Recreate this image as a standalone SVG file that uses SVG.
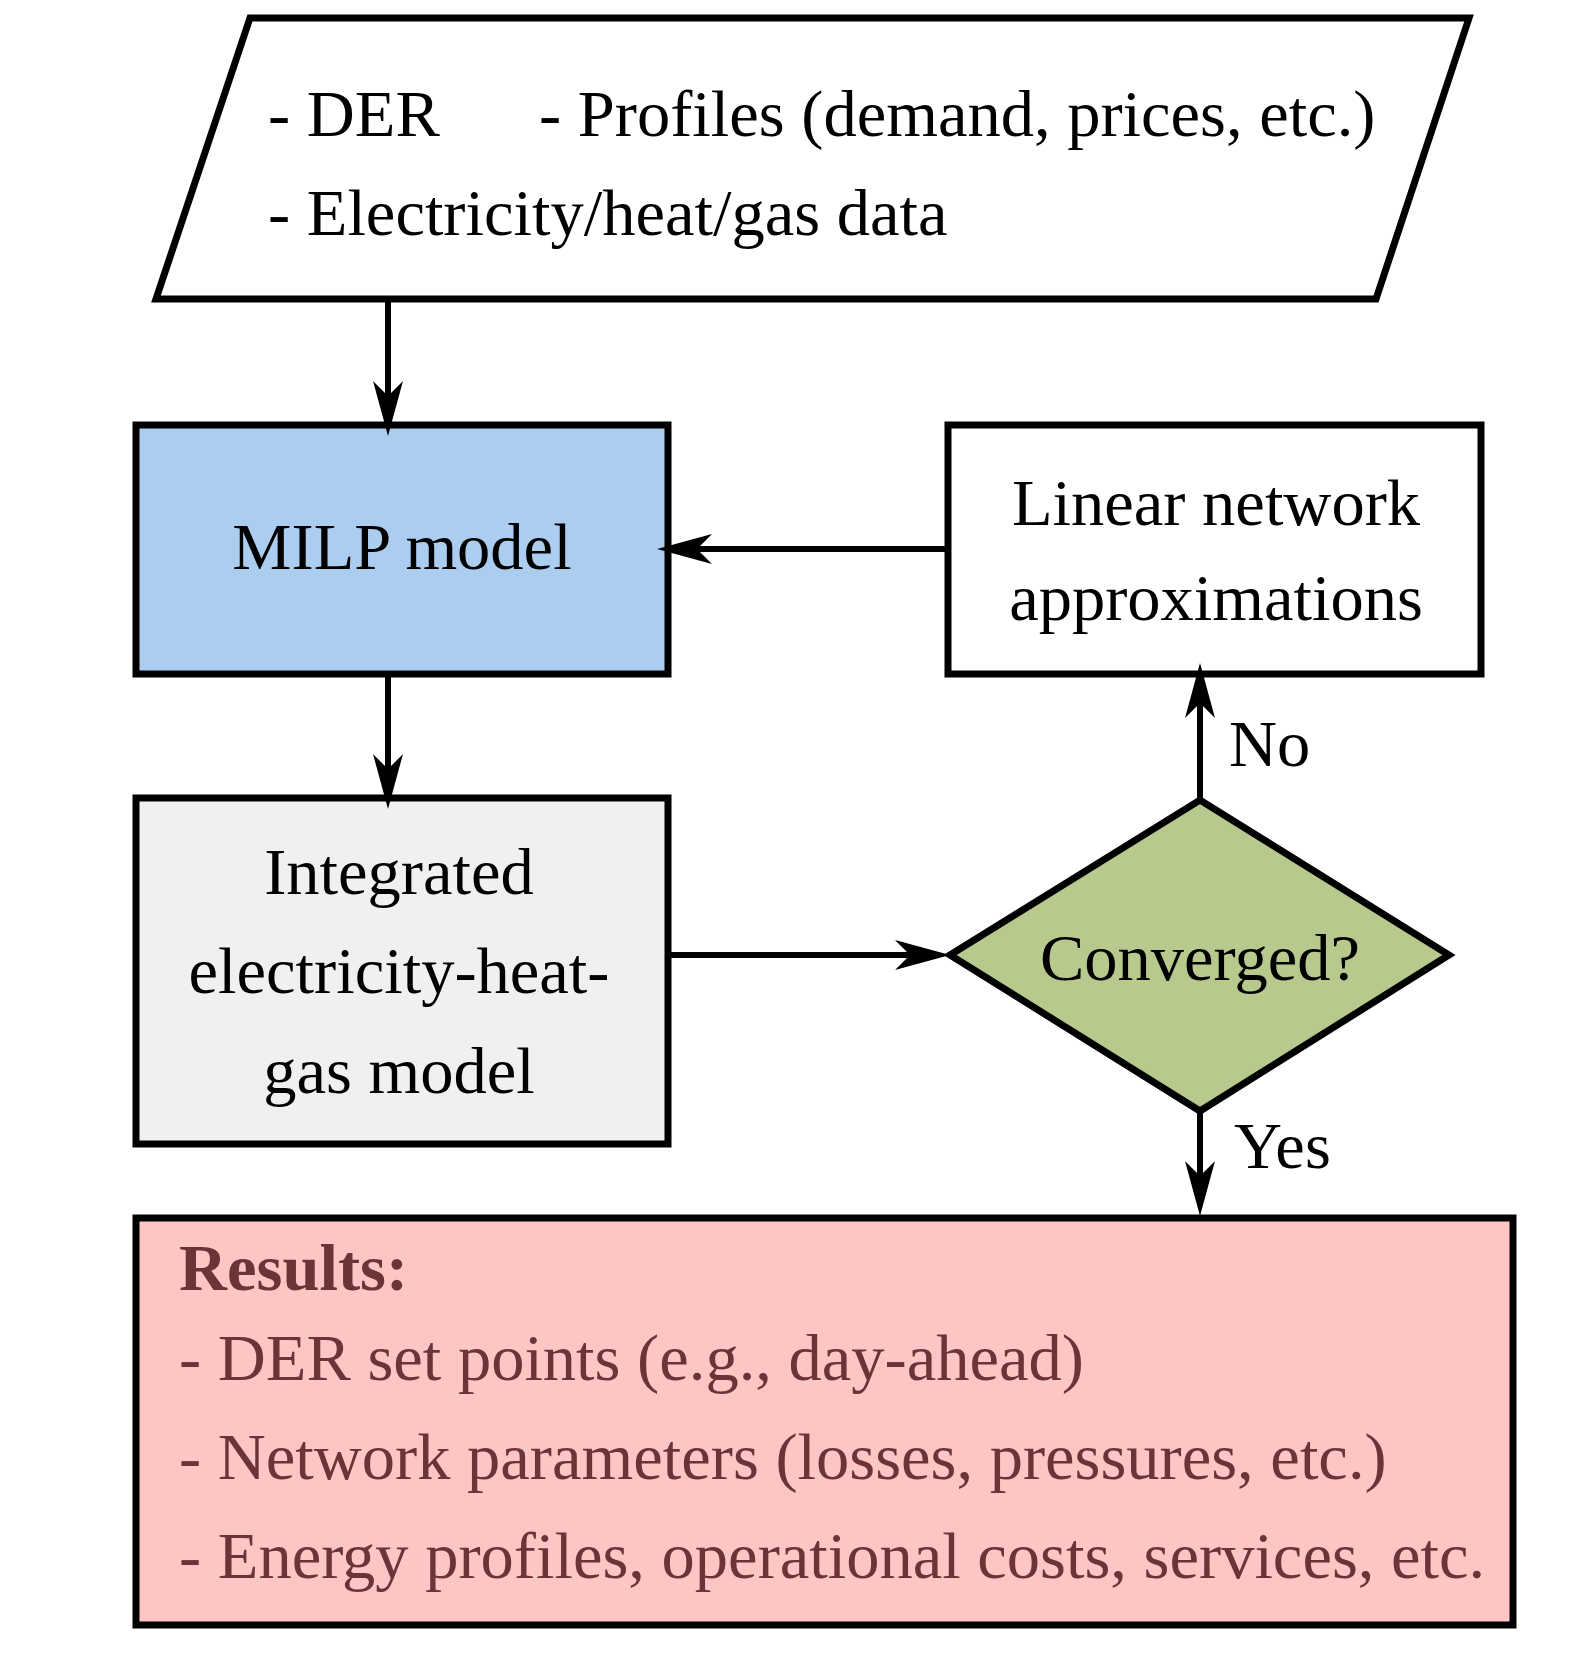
<svg xmlns="http://www.w3.org/2000/svg" width="1594" height="1669" viewBox="0 0 1594 1669">
<style>
.t{font-family:"Liberation Serif","Times New Roman",serif;font-size:66.5px;fill:#000}
.c{text-anchor:middle}
.r{fill:#6b3436}
.b{font-weight:bold}
.box{stroke:#000;stroke-width:7}
.ln{stroke:#000;stroke-width:6;fill:none;marker-end:url(#ah)}
</style>
<defs>
<marker id="ah" markerUnits="userSpaceOnUse" viewBox="-58 -17 60 34" markerWidth="60" markerHeight="34" refX="-40" refY="0" orient="auto">
<path d="M0,0 L-55,-15 L-40,0 L-55,15 Z" fill="#000"/>
</marker>
</defs>
<rect width="1594" height="1669" fill="#fff"/>
<g id="input">
<polygon class="box" points="250,18 1469,18 1376,299 156,299" fill="#fff"/>
<text class="t" x="268" y="136">- DER</text>
<text class="t" x="539" y="136">- Profiles (demand, prices, etc.)</text>
<text class="t" x="268" y="235">- Electricity/heat/gas data</text>
</g>
<g id="milp">
<rect class="box" x="136" y="425" width="532" height="249" fill="#abcdef"/>
<text class="t c" x="402" y="569">MILP model</text>
</g>
<g id="linear">
<rect class="box" x="948" y="425" width="533" height="249" fill="#fff"/>
<text class="t c" x="1216" y="525">Linear network</text>
<text class="t c" x="1216" y="620">approximations</text>
</g>
<g id="integrated">
<rect class="box" x="136" y="798" width="532" height="346" fill="#eff0f2"/>
<text class="t c" x="399" y="894">Integrated</text>
<text class="t c" x="399" y="993">electricity-heat-</text>
<text class="t c" x="399" y="1093">gas model</text>
</g>
<g id="converged">
<polygon class="box" points="950,955 1200,800 1449,955 1200,1111" fill="#b7c98d"/>
<text class="t c" x="1200" y="980">Converged?</text>
</g>
<g id="results">
<rect class="box" x="136" y="1218" width="1377" height="407" fill="#fec5c5"/>
<text class="t r b" x="179" y="1290">Results:</text>
<text class="t r" x="179" y="1380">- DER set points (e.g., day-ahead)</text>
<text class="t r" x="179" y="1479">- Network parameters (losses, pressures, etc.)</text>
<text class="t r" x="179" y="1578">- Energy profiles, operational costs, services, etc.</text>
</g>
<g id="connectors">
<line class="ln" x1="388" y1="299" x2="388" y2="396"/>
<line class="ln" x1="948" y1="549" x2="697" y2="549"/>
<line class="ln" x1="388" y1="674" x2="388" y2="769"/>
<line class="ln" x1="668" y1="955" x2="910" y2="955"/>
<line class="ln" x1="1200" y1="800" x2="1200" y2="703"/>
<line class="ln" x1="1200" y1="1111" x2="1200" y2="1176"/>
<text class="t" x="1229" y="766">No</text>
<text class="t" x="1234" y="1168">Yes</text>
</g>
</svg>
